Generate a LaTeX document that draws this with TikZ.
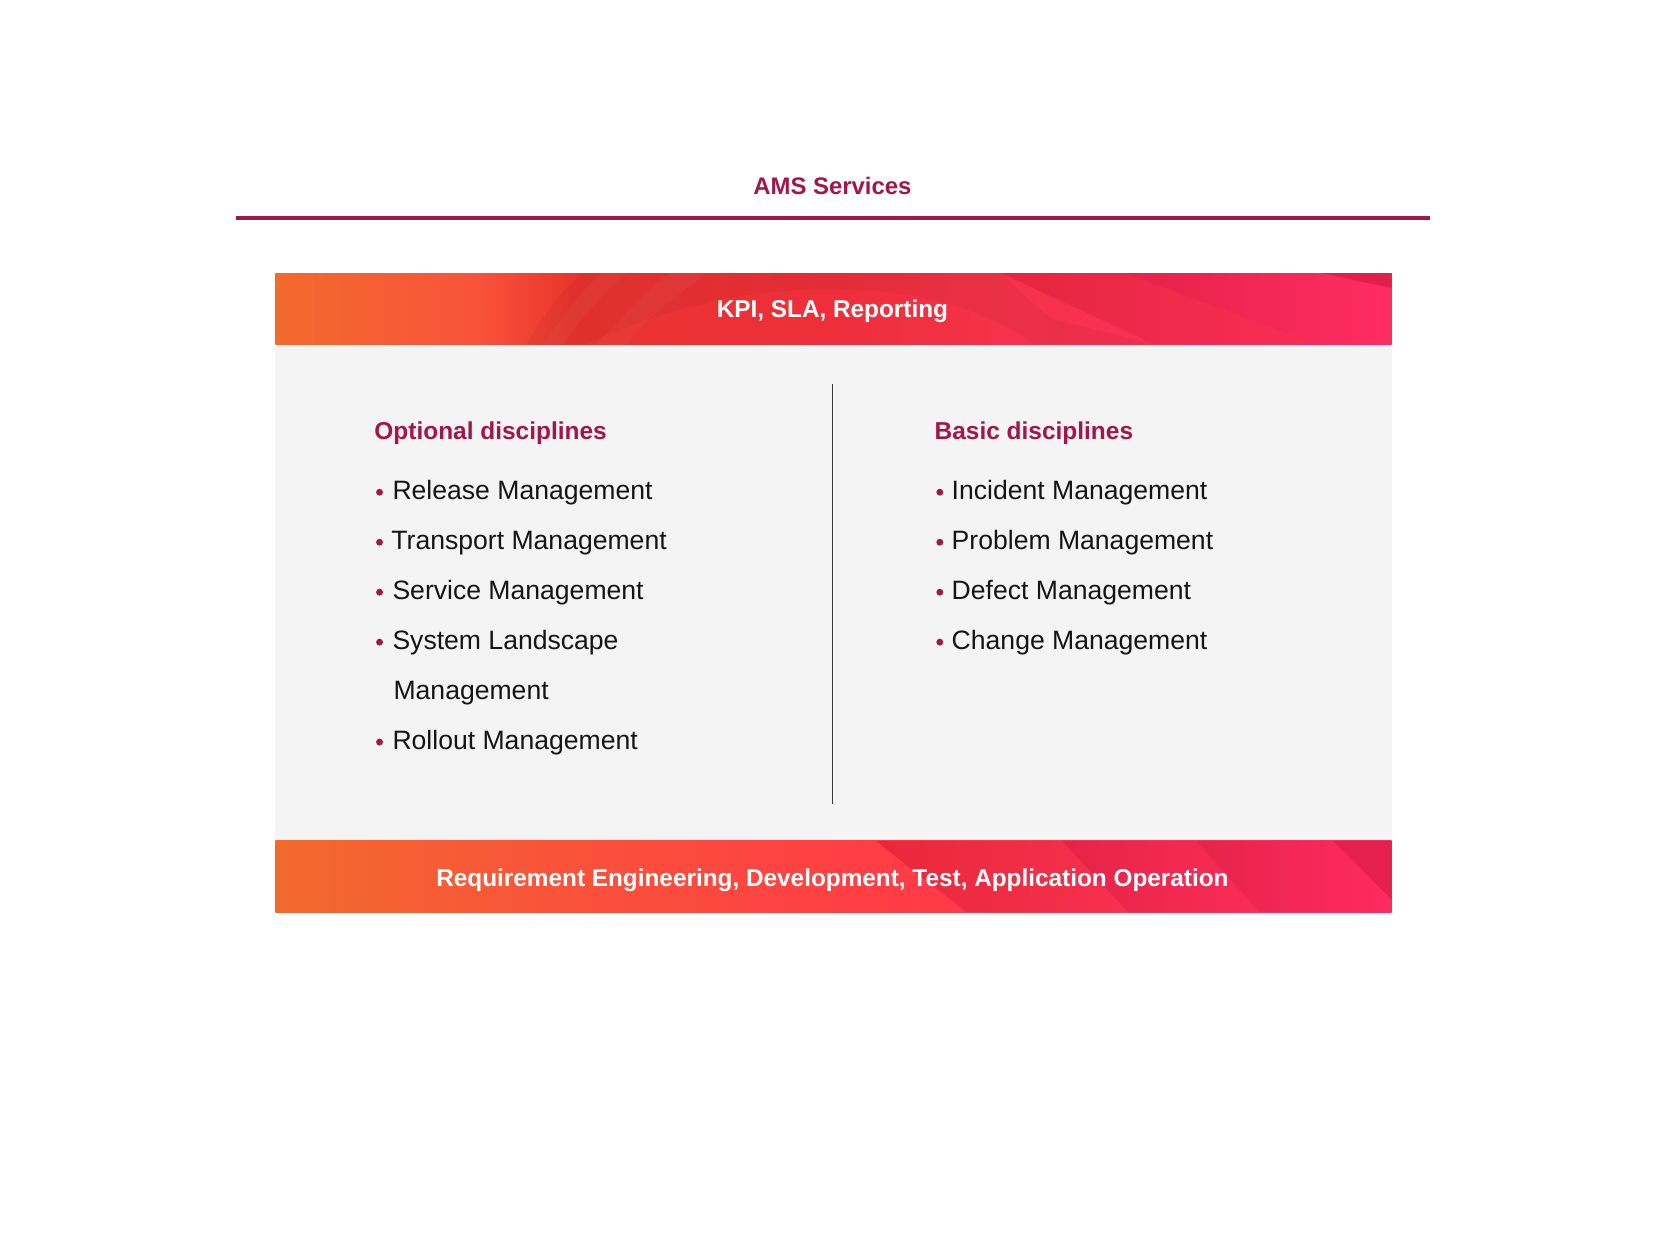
\documentclass[tikz,border=0pt]{standalone}
\usepackage{fontspec}
\setmainfont{Liberation Sans}
\definecolor{maroon}{HTML}{A3164A}
\definecolor{ink}{HTML}{151515}
\definecolor{panel}{HTML}{F4F4F4}
\definecolor{bOrange}{HTML}{F26A2D}
\definecolor{bOrangeB}{HTML}{F9533A}
\definecolor{bRed}{HTML}{E8342D}
\definecolor{bRedB}{HTML}{EE2E3B}
\definecolor{bRedC}{HTML}{F5324A}
\definecolor{bPink}{HTML}{FF2C64}
\definecolor{bBright}{HTML}{FF3D45}
\definecolor{tsAl}{HTML}{E6253F}
\definecolor{tsAr}{HTML}{F72E55}
\definecolor{tsBl}{HTML}{E52347}
\definecolor{tsBr}{HTML}{FF2C63}
\definecolor{tsC}{HTML}{E41E4C}
\definecolor{bsAl}{HTML}{E8283A}
\definecolor{bsAr}{HTML}{F7304F}
\definecolor{bsBl}{HTML}{E62446}
\definecolor{bsBr}{HTML}{FA2C58}
\definecolor{bsCl}{HTML}{E62449}
\definecolor{bsCr}{HTML}{FF2A62}
\definecolor{bsD}{HTML}{E6204E}
\pgfdeclarehorizontalshading{topband}{100bp}{color(0bp)=(bOrange); color(25bp)=(bOrange); color(34bp)=(bOrangeB); color(38.5bp)=(bRed); color(50bp)=(bRedB); color(58bp)=(bRedC); color(75bp)=(bPink); color(100bp)=(bPink)}
\pgfdeclarehorizontalshading{botband}{100bp}{color(0bp)=(bOrange); color(25bp)=(bOrange); color(37.5bp)=(bOrangeB); color(52bp)=(bBright); color(75bp)=(bPink); color(100bp)=(bPink)}
\begin{document}
\begin{tikzpicture}[x=1pt,y=-1pt,
  bodytxt/.style={anchor=base west, text=ink, font=\fontsize{25}{28}\selectfont, inner sep=0pt},
  headtxt/.style={anchor=base west, text=maroon, font=\fontsize{23}{28}\selectfont\bfseries, inner sep=0pt},
  bandtxt/.style={anchor=base, text=white, font=\fontsize{22.9}{26}\selectfont\bfseries, inner sep=0pt},
  bulletdot/.style={circle, fill=maroon, inner sep=0pt, minimum size=6.5pt},
  divider/.style={draw=ink!85, line width=1.6pt}]
\useasboundingbox (0,0) rectangle (1568,1175.7);
\fill[white] (0,0) rectangle (1568,1175.7);

% title
\node[anchor=base, text=maroon, font=\fontsize{22.5}{26}\selectfont\bfseries, inner sep=0pt] (title) at (783,183) {AMS Services};
\draw[maroon, line width=3.6pt] (222,205) -- (1345,205);

% panel
\fill[panel] (259,324) rectangle (1309,791);

% top band
\shade[shading=topband] (259,257) rectangle (1309,324);
\begin{scope}
\clip (259,257) rectangle (1309,324);
% darker region above the big arc
\fill[black, fill opacity=0.04] (495,324) .. controls (510,300) and (528,272) .. (548,257) -- (942,257)
   .. controls (960,275) and (975,290) .. (990,300) -- (1086,324) -- (973,324)
   .. controls (920,285) and (850,272) .. (778,272) .. controls (720,272) and (640,282) .. (552,324) -- cycle;
% light swooshes
\fill[white, fill opacity=0.03] (512,324) .. controls (530,295) and (548,272) .. (566,257) -- (590,257)
   .. controls (568,275) and (545,300) .. (530,324) -- cycle;
\fill[white, fill opacity=0.03] (560,324) .. controls (585,300) and (605,275) .. (630,257) -- (665,257)
   .. controls (635,280) and (605,300) .. (590,324) -- cycle;
% right stripes
\shade[left color=tsAl, right color=tsAr] (942,257) -- (1059,257) -- (1240,324) -- (1086,324) -- cycle;
\shade[left color=tsBl, right color=tsBr] (1059,257) -- (1244,257) -- (1309,271) -- (1309,324) -- (1240,324) -- cycle;
\fill[tsC] (1244,257) -- (1309,257) -- (1309,271) -- cycle;
\end{scope}
\node[bandtxt] (kpi) at (783,299) {KPI, SLA, Reporting};

% bottom band
\shade[shading=botband] (259,791) rectangle (1309,858);
\shade[left color=bsAl, right color=bsAr] (824,791) -- (999,791) -- (1061,858) -- (909,858) -- cycle;
\shade[left color=bsBl, right color=bsBr] (999,791) -- (1125,791) -- (1185,858) -- (1061,858) -- cycle;
\shade[left color=bsCl, right color=bsCr] (1125,791) -- (1254,791) -- (1309,846) -- (1309,858) -- (1185,858) -- cycle;
\fill[bsD] (1254,791) -- (1309,791) -- (1309,846) -- cycle;
\node[bandtxt] (req) at (783,834) {Requirement Engineering, Development, Test, Application Operation};

% divider
\draw[divider] (783,361) -- (783,756);

% left column
\node[headtxt] (opth) at (352,413) {Optional disciplines};
\node[bulletdot] (ob1) at (357,463) {};
\node[bodytxt] (o1) at (369,470) {Release Management};
\node[bulletdot] (ob2) at (357,510) {};
\node[bodytxt] (o2) at (368,517) {Transport Management};
\node[bulletdot] (ob3) at (357,557) {};
\node[bodytxt] (o3) at (369,564) {Service Management};
\node[bulletdot] (ob4) at (357,604) {};
\node[bodytxt] (o4) at (369,611) {System Landscape};
\node[bodytxt] (o4b) at (370,658) {Management};
\node[bulletdot] (ob5) at (357,698) {};
\node[bodytxt] (o5) at (369,705) {Rollout Management};

% right column
\node[headtxt] (bash) at (879,413) {Basic disciplines};
\node[bulletdot] (bb1) at (884,463) {};
\node[bodytxt] (b1) at (895,470) {Incident Management};
\node[bulletdot] (bb2) at (884,510) {};
\node[bodytxt] (b2) at (895,517) {Problem Management};
\node[bulletdot] (bb3) at (884,557) {};
\node[bodytxt] (b3) at (895,564) {Defect Management};
\node[bulletdot] (bb4) at (884,604) {};
\node[bodytxt] (b4) at (895,611) {Change Management};
\end{tikzpicture}
\end{document}
